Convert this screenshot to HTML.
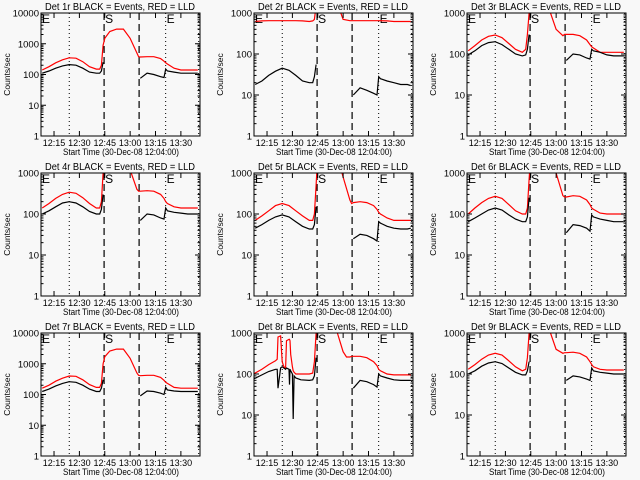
<!DOCTYPE html>
<html><head><meta charset="utf-8"><style>
html,body{margin:0;padding:0;background:#f8f8f8}
svg{display:block;font-family:"Liberation Sans",sans-serif}
</style></head><body>
<svg id="c" width="640" height="480" viewBox="0 0 640 480">
<rect width="640" height="480" fill="#f8f8f8"/>
</svg>
<script>
// minutes after 12:00
const times = [8,12,16,20,24,28,32,36,40,42,43,44,45,48,52,56,60,64,65,66,70,74,78,80,81,82,86,90,94,98,100];
const times8 = [7,12,16,20,21,21.5,23,24,25,26,26.5,28,28.3,28.6,29,30,30.5,31,31.5,32,35,40,42,43,44,45,48,52,56,60,62,64,65,66,70,74,78,80,81,82,86,90,94,98,100];
const detNames = ["1r","2r","3r","4r","5r","6r","7r","8r","9r"];
const yMaxes = [10000,1000,1000,1000,1000,1000,10000,1000,1000];
const red1 = [140,180,240,300,350,340,260,180,150,150,200,900,1500,2500,3000,3000,1500,500,380,370,380,380,330,270,240,220,160,140,140,140,140];
const blk1 = [110,130,160,190,210,200,160,120,110,110,130,250,null,null,null,null,null,null,null,75,110,100,85,80,150,130,120,110,110,110,110];
const red2 = [620,640,650,650,650,650,650,640,620,640,700,1500,3000,3000,3000,2000,700,650,650,650,650,650,650,650,650,650,640,620,620,620,620];
const blk2 = [18,22,30,38,45,40,30,22,20,20,28,55,null,null,null,null,null,null,null,10,15,13,11,10,28,25,22,20,18,18,17];
const red3 = [120,160,220,270,290,250,180,130,110,130,300,1000,3000,3000,3000,1200,400,280,300,300,300,280,220,170,150,140,110,110,110,110,110];
const blk3 = [95,120,160,190,200,170,130,100,90,95,130,300,null,null,null,null,null,null,null,70,100,95,80,75,130,120,110,95,90,90,90];
const red4 = [140,180,240,300,340,320,250,180,140,140,200,1000,3000,3000,3000,3000,1200,400,360,360,370,360,300,240,200,180,150,140,140,140,140];
const blk4 = [100,120,150,185,200,185,150,115,100,100,130,300,null,null,null,null,null,null,null,70,100,95,80,75,140,120,110,105,100,100,100];
const red5 = [70,90,120,160,180,160,120,90,70,70,100,500,3000,3000,3000,3000,800,220,180,190,200,190,160,130,110,100,80,70,70,70,70];
const blk5 = [45,55,70,85,95,85,65,50,43,43,55,150,null,null,null,null,null,null,null,25,32,30,25,22,65,60,50,45,43,43,45];
const red6 = [100,140,190,240,270,240,170,120,100,100,140,700,3000,3000,3000,3000,1000,280,260,260,280,270,220,170,140,130,105,100,100,100,100];
const blk6 = [65,80,100,125,140,125,95,75,65,65,85,250,null,null,null,null,null,null,null,35,55,52,45,38,95,85,75,70,65,65,65];
const red7 = [160,200,270,340,400,390,300,210,170,170,230,1000,1700,2600,3000,3000,1500,500,420,410,420,420,360,290,250,230,170,160,160,160,160];
const blk7 = [125,150,190,230,260,250,200,150,125,125,160,300,null,null,null,null,null,null,null,90,130,125,110,100,170,140,130,125,125,125,125];
const red8 = [100,130,170,210,230,800,850,200,150,140,650,700,700,650,300,150,120,110,105,100,100,100,105,200,1000,3000,3000,3000,1200,350,260,260,270,270,270,250,200,160,130,120,100,95,95,95,95];
const blk8 = [75,95,115,130,130,45,140,150,140,130,140,130,55,130,120,100,8,90,85,80,72,70,72,90,250,null,null,null,null,null,null,null,null,45,70,65,55,48,100,90,80,72,70,70,70];
const red9 = [130,170,230,290,320,290,210,150,120,130,250,1000,3000,3000,3000,1200,400,320,330,330,340,320,260,200,170,150,130,125,125,125,125];
const blk9 = [100,120,155,185,200,180,140,110,95,95,120,200,null,null,null,null,null,null,null,70,90,85,75,70,140,120,110,105,100,100,100];
const timeSeries = [times,times,times,times,times,times,times,times8,times];
const redSeries = [red1,red2,red3,red4,red5,red6,red7,red8,red9];
const blackSeries = [blk1,blk2,blk3,blk4,blk5,blk6,blk7,blk8,blk9];
const xTickMinutes = [15,30,45,60,75,90];
const xTickLabels = ["12:15","12:30","12:45","13:00","13:15","13:30"];
const dottedLines = [24,81,100.5];
const dashedLines = [44.6,65.3];

const NS="http://www.w3.org/2000/svg";
const svg=document.getElementById('c');
function mk(tag,attrs,parent){const e=document.createElementNS(NS,tag);for(const k in attrs)e.setAttribute(k,attrs[k]);(parent||svg).appendChild(e);return e;}
const colL=[41,254,467], rowT=[13,173,333], PW=159, PH=123;
const T0=7.3, T1=101.3;

for(let p=0;p<9;p++){
  const L=colL[p%3], T=rowT[Math.floor(p/3)], R=L+PW, B=T+PH;
  const ymax=yMaxes[p], dec=Math.log10(ymax);
  const xs=t=>L+(t-T0)/(T1-T0)*PW;
  const ys=v=>B-Math.log10(Math.max(v,1))/dec*PH;
  const tArr=timeSeries[p];
  const g=mk('g',{});
  
  
  const clipId='clip'+p;
  const cp=mk('clipPath',{id:clipId},g);mk('rect',{x:L,y:T,width:PW,height:PH},cp);
  const title=mk('text',{x:L+4,y:T-3,'font-size':'10.5',textLength:'150',lengthAdjust:'spacingAndGlyphs'},g);
  title.textContent='Det '+detNames[p]+' BLACK = Events, RED = LLD';
  
  
  dottedLines.forEach(t=>{const l=mk('line',{x1:xs(t),x2:xs(t),y1:T,y2:B,stroke:'#000','stroke-width':1,'stroke-dasharray':'1,3'},g);
    
    });
  dashedLines.forEach(t=>{const l=mk('line',{x1:xs(t),x2:xs(t),y1:T,y2:B,stroke:'#000','stroke-width':1.2,'stroke-dasharray':'7,4'},g);
    
    });
  [['E',L+1],['S',xs(dashedLines[0])+1],['E',xs(dottedLines[1])+1]].forEach(([s,x])=>{
    const tx=mk('text',{x:x,y:T+10,'font-size':'12'},g);tx.textContent=s;
    
    });
  [[redSeries[p],'#ff0000','red-lld-line'],[blackSeries[p],'#000','black-events-line']].forEach(([vals,col,nm])=>{
    let d='',pen=false;
    vals.forEach((v,i)=>{if(v===null){pen=false;return;}d+=(pen?'L':'M')+xs(tArr[i]).toFixed(1)+' '+ys(v).toFixed(1)+' ';pen=true;});
    const pa=mk('path',{d:d,fill:'none',stroke:col,'stroke-width':1.2,'clip-path':'url(#'+clipId+')'},g);
    
    
  });
  const fr=mk('rect',{x:L,y:T,width:PW,height:PH,fill:'none',stroke:'#000','stroke-width':1},g);
  
  
  for(let k=0;k<=dec;k++){
    const y=ys(Math.pow(10,k));
    mk('line',{x1:L,x2:L+5,y1:y,y2:y,stroke:'#000'},g);mk('line',{x1:R,x2:R-5,y1:y,y2:y,stroke:'#000'},g);
    const tl=mk('text',{x:L-2,y:y+3.5,'text-anchor':'end','font-size':'9.5'},g);tl.textContent=String(Math.pow(10,k));
    
    
    if(k<dec)for(let m=2;m<10;m++){const ym=ys(m*Math.pow(10,k));
      mk('line',{x1:L,x2:L+2.5,y1:ym,y2:ym,stroke:'#000'},g);mk('line',{x1:R,x2:R-2.5,y1:ym,y2:ym,stroke:'#000'},g);}
  }
  xTickMinutes.forEach((t,i)=>{const x=xs(t);
    mk('line',{x1:x,x2:x,y1:B,y2:B-5,stroke:'#000'},g);mk('line',{x1:x,x2:x,y1:T,y2:T+5,stroke:'#000'},g);
    const tl=mk('text',{x:x,y:B+10,'text-anchor':'middle','font-size':'9'},g);tl.textContent=xTickLabels[i];
    
    });
  const xt=mk('text',{x:L+22,y:B+19,'font-size':'9.5',textLength:'116',lengthAdjust:'spacingAndGlyphs'},g);
  xt.textContent='Start Time (30-Dec-08 12:04:00)';
  
  
  const yt=mk('text',{x:0,y:0,'text-anchor':'middle','font-size':'8.5',transform:'translate('+(L-31)+','+(T+PH/2)+') rotate(-90)'},g);
  yt.textContent='Counts/sec';
  
  
}
</script>
</body></html>
